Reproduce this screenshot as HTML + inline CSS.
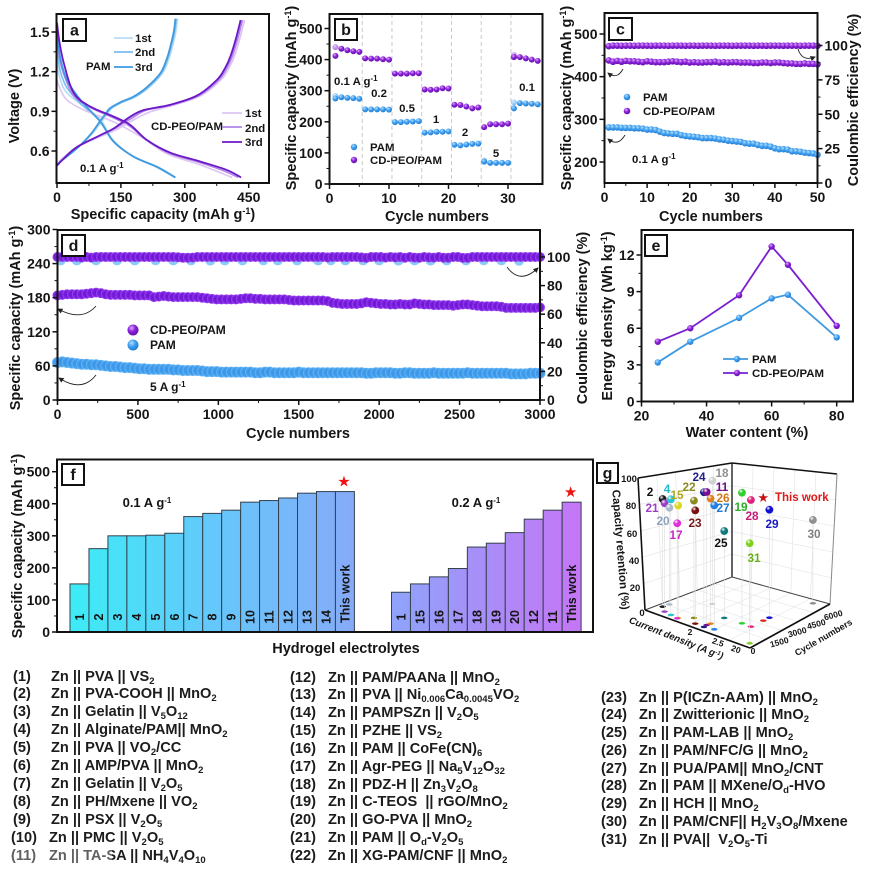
<!DOCTYPE html>
<html lang="en">
<head>
<meta charset="utf-8">
<title>Hydrogel electrolyte battery performance figure</title>
<style>
html,body{margin:0;padding:0;background:#fff}
#page{position:relative;width:871px;height:870px;overflow:hidden;background:#fff;filter:blur(.35px)}
svg{position:absolute;left:0;top:0}
svg text{font-family:"Liberation Sans",Arial,sans-serif;font-weight:700;fill:#151515}
.tick{font-size:14px}
.title{font-size:14.5px;text-anchor:middle}
.lg{font-size:11.4px}
.col{position:absolute;font:700 14.6px/17.85px "Liberation Sans",Arial,sans-serif;color:#1c1c1c}
.col>div{white-space:pre}
.n{display:inline-block;width:38px}
.o{margin-left:-2px}
.col sub{font-size:9.5px;line-height:0;vertical-align:baseline;position:relative;top:3px}
#wm{position:absolute;left:12px;top:845px;width:100px;height:21px;background:rgba(255,255,255,.3);border-radius:3px}
</style>
</head>
<body>
<div id="page">
<svg id="fig" width="871" height="870" viewBox="0 0 871 870" xmlns="http://www.w3.org/2000/svg">
<defs>
<radialGradient id="sB" cx=".38" cy=".32" r=".75"><stop offset="0" stop-color="#b5e0ff"/><stop offset=".45" stop-color="#3f9ff0"/><stop offset="1" stop-color="#1f78cc"/></radialGradient>
<radialGradient id="sP" cx=".38" cy=".32" r=".75"><stop offset="0" stop-color="#dca8ff"/><stop offset=".45" stop-color="#8a20d8"/><stop offset="1" stop-color="#5c10a6"/></radialGradient>
<radialGradient id="bandB"><stop offset="0" stop-color="#3a8fe2"/><stop offset=".7" stop-color="#3f9cec"/><stop offset="1" stop-color="#6cb9f5"/></radialGradient>
<radialGradient id="bandP"><stop offset="0" stop-color="#6a12cc"/><stop offset=".7" stop-color="#7a1ee0"/><stop offset="1" stop-color="#a050f2"/></radialGradient>
<linearGradient id="barA" gradientUnits="userSpaceOnUse" x1="70" y1="0" x2="354" y2="0"><stop offset="0" stop-color="#3cecf6"/><stop offset=".5" stop-color="#64c8fb"/><stop offset="1" stop-color="#86aaf8"/></linearGradient>
<linearGradient id="barB" gradientUnits="userSpaceOnUse" x1="391" y1="0" x2="581" y2="0"><stop offset="0" stop-color="#8ea4fb"/><stop offset="1" stop-color="#c576f5"/></linearGradient>
<marker id="ah" markerWidth="6" markerHeight="6" refX="5" refY="3" orient="auto"><path d="M0 0L6 3L0 6Z" fill="#222"/></marker>
</defs>

<!-- static titles and annotations -->
<g>
<text class="title" x="163" y="219">Specific capacity (mAh g<tspan dy="-5" font-size="9">-1</tspan><tspan dy="5">)</tspan></text>
<text class="title" transform="translate(19 106) rotate(-90)">Voltage (V)</text>
<text class="lg" x="135" y="42">1st</text>
<text class="lg" x="135" y="56">2nd</text>
<text class="lg" x="135" y="71">3rd</text>
<text class="lg" x="86" y="70">PAM</text>
<text class="lg" x="245" y="117">1st</text>
<text class="lg" x="245" y="132">2nd</text>
<text class="lg" x="245" y="146">3rd</text>
<text class="lg" x="151" y="130">CD-PEO/PAM</text>
<text class="lg" x="80" y="172">0.1 A g<tspan dy="-4" font-size="8">-1</tspan></text>
</g>

<g>
<text class="title" x="437" y="221">Cycle numbers</text>
<text class="title" transform="translate(296 98) rotate(-90)">Specific capacity (mAh g<tspan dy="-5" font-size="9">-1</tspan><tspan dy="5">)</tspan></text>
<text class="lg" x="334" y="85">0.1 A g<tspan dy="-4" font-size="8">-1</tspan></text>
<text class="lg" x="379" y="97" text-anchor="middle">0.2</text>
<text class="lg" x="407" y="112" text-anchor="middle">0.5</text>
<text class="lg" x="436" y="123" text-anchor="middle">1</text>
<text class="lg" x="465" y="136" text-anchor="middle">2</text>
<text class="lg" x="496" y="157" text-anchor="middle">5</text>
<text class="lg" x="527" y="91" text-anchor="middle">0.1</text>
<text class="lg" x="370" y="151">PAM</text>
<text class="lg" x="370" y="164">CD-PEO/PAM</text>
</g>

<g>
<text class="title" x="711" y="221">Cycle numbers</text>
<text class="title" transform="translate(571 98) rotate(-90)">Specific capacity (mAh g<tspan dy="-5" font-size="9">-1</tspan><tspan dy="5">)</tspan></text>
<text class="title" transform="translate(858 100) rotate(-90)">Coulombic efficiency (%)</text>
<text class="lg" x="643" y="101">PAM</text>
<text class="lg" x="643" y="115">CD-PEO/PAM</text>
<text class="lg" x="632" y="163">0.1 A g<tspan dy="-4" font-size="8">-1</tspan></text>
<path d="M623 69Q617 80 608 73" fill="none" stroke="#222" stroke-width=".9" marker-end="url(#ah)"/>
<path d="M625 135Q618 147 608 139" fill="none" stroke="#222" stroke-width=".9" marker-end="url(#ah)"/>
<path d="M798 49Q802 62 815 57" fill="none" stroke="#222" stroke-width=".9" marker-end="url(#ah)"/>
</g>

<g>
<text class="title" x="298" y="438">Cycle numbers</text>
<text class="title" transform="translate(20 318) rotate(-90)">Specific capacity (mAh g<tspan dy="-5" font-size="9">-1</tspan><tspan dy="5">)</tspan></text>
<text class="title" transform="translate(587 318) rotate(-90)">Coulombic efficiency (%)</text>
<text x="150" y="334" style="font-size:12px">CD-PEO/PAM</text>
<text x="150" y="349" style="font-size:12px">PAM</text>
<text x="150" y="391" style="font-size:12px">5 A g<tspan dy="-4" font-size="8">-1</tspan></text>
<path d="M96 306Q82 322 58 309" fill="none" stroke="#222" stroke-width=".9" marker-end="url(#ah)"/>
<path d="M96 375Q82 393 59 378" fill="none" stroke="#222" stroke-width=".9" marker-end="url(#ah)"/>
<path d="M507 267Q520 285 538 268" fill="none" stroke="#222" stroke-width=".9" marker-end="url(#ah)"/>
</g>

<g>
<text class="title" x="747" y="437">Water content (%)</text>
<text class="title" transform="translate(612 316) rotate(-90)">Energy density (Wh kg<tspan dy="-5" font-size="9">-1</tspan><tspan dy="5">)</tspan></text>
<text class="lg" x="752" y="363">PAM</text>
<text class="lg" x="752" y="377">CD-PEO/PAM</text>
</g>

<g>
<text class="title" x="346" y="653">Hydrogel electrolytes</text>
<text class="title" transform="translate(22 546) rotate(-90)">Specific capacity (mAh g<tspan dy="-5" font-size="9">-1</tspan><tspan dy="5">)</tspan></text>
<text x="147" y="507" text-anchor="middle" style="font-size:13px">0.1 A g<tspan dy="-4" font-size="8">-1</tspan></text>
<text x="476" y="507" text-anchor="middle" style="font-size:13px">0.2 A g<tspan dy="-4" font-size="8">-1</tspan></text>
</g>

<g id="plots"></g>

<g>
<text x="650" y="496" text-anchor="middle" style="fill:#111;font-size:11.8px">2</text>
<text x="667" y="493" text-anchor="middle" style="fill:#22bcc8;font-size:11.8px">4</text>
<text x="677" y="499" text-anchor="middle" style="fill:#b0a820;font-size:11.8px">15</text>
<text x="652" y="512" text-anchor="middle" style="fill:#9b3fc4;font-size:11.8px">21</text>
<text x="663" y="525" text-anchor="middle" style="fill:#8fa0bc;font-size:11.8px">20</text>
<text x="676" y="539" text-anchor="middle" style="fill:#c828c0;font-size:11.8px">17</text>
<text x="689" y="491" text-anchor="middle" style="fill:#8a8a20;font-size:11.8px">22</text>
<text x="695" y="527" text-anchor="middle" style="fill:#7a1818;font-size:11.8px">23</text>
<text x="699" y="481" text-anchor="middle" style="fill:#20208a;font-size:11.8px">24</text>
<text x="722" y="477" text-anchor="middle" style="fill:#909090;font-size:11.8px">18</text>
<text x="722" y="491" text-anchor="middle" style="fill:#6a1080;font-size:11.8px">11</text>
<text x="723" y="502" text-anchor="middle" style="fill:#d07818;font-size:11.8px">26</text>
<text x="723" y="512" text-anchor="middle" style="fill:#2078d0;font-size:11.8px">27</text>
<text x="721" y="547" text-anchor="middle" style="fill:#111;font-size:11.8px">25</text>
<text x="741" y="511" text-anchor="middle" style="fill:#28b028;font-size:11.8px">19</text>
<text x="752" y="520" text-anchor="middle" style="fill:#c81e78;font-size:11.8px">28</text>
<text x="772" y="528" text-anchor="middle" style="fill:#1818c0;font-size:11.8px">29</text>
<text x="814" y="538" text-anchor="middle" style="fill:#808080;font-size:11.8px">30</text>
<text x="754" y="562" text-anchor="middle" style="fill:#68b018;font-size:11.8px">31</text>
<text x="775" y="501" style="fill:#e01818;font-size:11.5px">This work</text>
<text transform="translate(617 550) rotate(85.5)" text-anchor="middle" style="font-size:11.4px">Capacity retention (%)</text>
<text transform="translate(675 641) rotate(21.6)" text-anchor="middle" style="font-size:9.6px;font-style:italic">Current density (A g<tspan dy="-3" font-size="6">-1</tspan><tspan dy="3">)</tspan></text>
<text transform="translate(825 640) rotate(-30)" text-anchor="middle" style="font-size:9px">Cycle numbers</text>
<text x="629" y="482" text-anchor="middle" style="font-size:9.5px">100</text>
<text x="631" y="509" text-anchor="middle" style="font-size:9.5px">80</text>
<text x="632" y="537" text-anchor="middle" style="font-size:9.5px">60</text>
<text x="634" y="564" text-anchor="middle" style="font-size:9.5px">40</text>
<text x="635" y="591" text-anchor="middle" style="font-size:9.5px">20</text>
<text x="642" y="616" text-anchor="middle" style="font-size:9.5px">0</text>
<text x="690" y="635" text-anchor="middle" style="font-size:8.5px">2</text>
<text transform="translate(717 645) rotate(20)" text-anchor="middle" style="font-size:8.5px">2.5</text>
<text transform="translate(735 652) rotate(20)" text-anchor="middle" style="font-size:8.5px">20</text>
<text x="753" y="654" text-anchor="middle" style="font-size:8.5px">0</text>
<text transform="translate(780 645) rotate(-15)" text-anchor="middle" style="font-size:8.5px">1500</text>
<text transform="translate(798 635) rotate(-15)" text-anchor="middle" style="font-size:8.5px">3000</text>
<text transform="translate(817 627) rotate(-15)" text-anchor="middle" style="font-size:8.5px">4500</text>
<text transform="translate(834 618) rotate(-15)" text-anchor="middle" style="font-size:8.5px">6000</text>
</g>
</svg>

<div class="col" style="left:13px;top:668.5px;line-height:17.93px"><div><span class="n">(1)</span>Zn || PVA || VS<sub>2</sub></div><div><span class="n">(2)</span>Zn || PVA-COOH || MnO<sub>2</sub></div><div><span class="n">(3)</span>Zn || Gelatin || V<sub>5</sub>O<sub>12</sub></div><div><span class="n">(4)</span>Zn || Alginate/PAM|| MnO<sub>2</sub></div><div><span class="n">(5)</span>Zn || PVA || VO<sub>2</sub>/CC</div><div><span class="n">(6)</span>Zn || AMP/PVA || MnO<sub>2</sub></div><div><span class="n">(7)</span>Zn || Gelatin || V<sub>2</sub>O<sub>5</sub></div><div><span class="n">(8)</span>Zn || PH/Mxene || VO<sub>2</sub></div><div><span class="n">(9)</span>Zn || PSX || V<sub>2</sub>O<sub>5</sub></div><div class="o"><span class="n">(10)</span>Zn || PMC || V<sub>2</sub>O<sub>5</sub></div><div class="o"><span class="n">(11)</span>Zn || TA-SA || NH<sub>4</sub>V<sub>4</sub>O<sub>10</sub></div></div>

<div class="col" style="left:290px;top:669.5px"><div><span class="n">(12)</span>Zn || PAM/PAANa || MnO<sub>2</sub></div><div><span class="n">(13)</span>Zn || PVA || Ni<sub>0.006</sub>Ca<sub>0.0045</sub>VO<sub>2</sub></div><div><span class="n">(14)</span>Zn || PAMPSZn || V<sub>2</sub>O<sub>5</sub></div><div><span class="n">(15)</span>Zn || PZHE || VS<sub>2</sub></div><div><span class="n">(16)</span>Zn || PAM || CoFe(CN)<sub>6</sub></div><div><span class="n">(17)</span>Zn || Agr-PEG || Na<sub>5</sub>V<sub>12</sub>O<sub>32</sub></div><div><span class="n">(18)</span>Zn || PDZ-H || Zn<sub>3</sub>V<sub>2</sub>O<sub>8</sub></div><div><span class="n">(19)</span>Zn || C-TEOS  || rGO/MnO<sub>2</sub></div><div><span class="n">(20)</span>Zn || GO-PVA || MnO<sub>2</sub></div><div><span class="n">(21)</span>Zn || PAM || O<sub>d</sub>-V<sub>2</sub>O<sub>5</sub></div><div><span class="n">(22)</span>Zn || XG-PAM/CNF || MnO<sub>2</sub></div></div>

<div class="col" style="left:601px;top:689.5px;line-height:17.75px"><div><span class="n">(23)</span>Zn || P(ICZn-AAm) || MnO<sub>2</sub></div><div><span class="n">(24)</span>Zn || Zwitterionic || MnO<sub>2</sub></div><div><span class="n">(25)</span>Zn || PAM-LAB || MnO<sub>2</sub></div><div><span class="n">(26)</span>Zn || PAM/NFC/G || MnO<sub>2</sub></div><div><span class="n">(27)</span>Zn || PUA/PAM|| MnO<sub>2</sub>/CNT</div><div><span class="n">(28)</span>Zn || PAM || MXene/O<sub>d</sub>-HVO</div><div><span class="n">(29)</span>Zn || HCH || MnO<sub>2</sub></div><div><span class="n">(30)</span>Zn || PAM/CNF|| H<sub>2</sub>V<sub>3</sub>O<sub>8</sub>/Mxene</div><div><span class="n">(31)</span>Zn || PVA||  V<sub>2</sub>O<sub>5</sub>-Ti</div></div>
<div id="wm"></div>
</div>

<script>
/* ---------- panel a: voltage profiles ---------- */
const aXTicks = [0, 150, 300, 450];
const aYTicks = [0.6, 0.9, 1.2, 1.5];
const aYTickLabels = ['0.6', '0.9', '1.2', '1.5'];
const pamChg3Cap = [0, 8, 20, 50, 80, 100, 115, 125, 150, 180, 210, 243, 258, 266, 274, 278];
const pamChg3V = [0.49, 0.52, 0.55, 0.63, 0.73, 0.82, 0.885, 0.925, 0.97, 1.012, 1.08, 1.19, 1.3, 1.39, 1.5, 1.6];
const pamChg2Cap = [0, 8, 20, 50, 80, 100, 115, 127, 152, 183, 213, 245, 260, 268, 276, 280];
const pamChg2V = [0.49, 0.52, 0.55, 0.63, 0.73, 0.82, 0.88, 0.925, 0.97, 1.012, 1.08, 1.19, 1.3, 1.39, 1.5, 1.6];
const pamChg1Cap = [0, 8, 20, 50, 80, 102, 118, 130, 155, 186, 216, 248, 263, 271, 279, 283];
const pamChg1V = [0.5, 0.53, 0.56, 0.63, 0.72, 0.81, 0.88, 0.925, 0.97, 1.012, 1.08, 1.19, 1.3, 1.39, 1.5, 1.6];
const pamDis3Cap = [0, 3, 8, 23, 55, 102, 133, 180, 235, 278];
const pamDis3V = [1.54, 1.42, 1.3, 1.14, 0.987, 0.82, 0.67, 0.557, 0.48, 0.4];
const pamDis2Cap = [0, 3, 8, 23, 55, 100, 131, 178, 233, 277];
const pamDis2V = [1.42, 1.3, 1.2, 1.08, 0.96, 0.83, 0.68, 0.56, 0.48, 0.4];
const pamDis1Cap = [0, 3, 10, 23, 63, 102, 130, 178, 233, 276];
const pamDis1V = [1.28, 1.2, 1.12, 1.04, 0.936, 0.84, 0.69, 0.56, 0.48, 0.4];
const cdChg3Cap = [0, 15, 47, 102, 133, 172, 204, 266, 329, 376, 395, 407, 420, 431];
const cdChg3V = [0.49, 0.54, 0.63, 0.72, 0.77, 0.86, 0.91, 0.95, 1.02, 1.14, 1.23, 1.315, 1.45, 1.59];
const cdChg2Cap = [0, 15, 47, 102, 135, 176, 210, 270, 333, 380, 399, 411, 424, 435];
const cdChg2V = [0.49, 0.54, 0.63, 0.72, 0.77, 0.85, 0.91, 0.95, 1.02, 1.14, 1.23, 1.315, 1.45, 1.59];
const cdChg1Cap = [0, 15, 47, 102, 138, 182, 222, 276, 338, 385, 404, 416, 429, 440];
const cdChg1V = [0.5, 0.55, 0.63, 0.71, 0.76, 0.84, 0.9, 0.95, 1.02, 1.14, 1.23, 1.315, 1.45, 1.59];
const cdDis3Cap = [0, 6, 16, 39, 78, 133, 172, 211, 266, 337, 399, 432];
const cdDis3V = [1.57, 1.42, 1.265, 1.04, 0.936, 0.86, 0.797, 0.683, 0.587, 0.52, 0.456, 0.4];
const cdDis2Cap = [0, 6, 16, 39, 78, 133, 172, 207, 262, 333, 392, 425];
const cdDis2V = [1.45, 1.3, 1.18, 1.02, 0.93, 0.85, 0.785, 0.69, 0.585, 0.515, 0.45, 0.4];
const cdDis1Cap = [0, 6, 23, 63, 133, 196, 258, 337, 411];
const cdDis1V = [1.14, 1.08, 0.987, 0.91, 0.82, 0.71, 0.58, 0.494, 0.4];

/* ---------- panel b: rate performance ---------- */
const bXTicks = [0, 10, 20, 30];
const bYTicks = [0, 100, 200, 300, 400, 500];
const bCycles = [1,2,3,4,5,6,7,8,9,10,11,12,13,14,15,16,17,18,19,20,21,22,23,24,25,26,27,28,29,30,31,32,33,34,35];
const bPam = [275,279,277,276,274,240,240,240,240,239,199,199,200,201,202,165,166,168,168,169,126,124,127,129,130,72,68,68,68,68,243,260,259,258,256];
const bCd = [412,435,430,427,425,404,403,403,401,400,355,355,355,356,356,304,303,304,308,307,255,254,249,243,246,183,192,192,192,194,408,408,404,400,396];
const bPamFadedCycles = [1, 26, 31];
const bPamFaded = [283, 75, 262];
const bCdFadedCycles = [1, 31];
const bCdFaded = [440, 414];
const bDividers = [5.5, 10.5, 15.5, 20.5, 25.5, 30.5];

/* ---------- panel c: 50-cycle stability ---------- */
const cXTicks = [0, 10, 20, 30, 40, 50];
const cYTicks = [200, 300, 400, 500];
const cRightTicks = [0, 25, 50, 75, 100];
const cPam = [281,281,281,280,280,280,279,279,278,276,276,275,271,268,267,266,266,263,261,260,259,258,256,256,256,255,253,252,250,249,248,247,244,243,243,240,238,238,236,232,230,230,229,225,225,224,222,221,220,217];
const cCd = [438,435,437,435,437,436,436,435,434,436,435,434,434,434,435,436,435,434,435,433,434,433,433,434,434,435,433,434,433,434,434,433,433,433,432,432,433,433,432,433,433,432,431,431,430,430,431,430,430,429];
const cCe = [99.5,99.9,99.9,99.8,99.9,99.9,99.8,99.9,99.9,99.9,99.8,99.9,99.9,99.9,99.8,99.9,99.9,99.9,99.8,99.9,99.9,99.8,99.9,99.9,99.9,99.8,99.9,99.9,99.9,99.8,99.9,99.9,99.9,99.9,99.8,99.9,99.9,99.8,99.9,99.9,99.9,99.8,99.9,99.9,99.9,99.8,99.9,99.9,99.9,99.8];

/* ---------- panel d: 3000-cycle stability ---------- */
const dXTicks = [0, 500, 1000, 1500, 2000, 2500, 3000];
const dYTicks = [0, 60, 120, 180, 240, 300];
const dRightTicks = [0, 20, 40, 60, 80, 100];
const dStepCycles = [0,30,60,90,120,150,180,210,240,270,300,330,360,390,420,450,480,510,540,570,600,630,660,690,720,750,780,810,840,870,900,930,960,990,1020,1050,1080,1110,1140,1170,1200,1230,1260,1290,1320,1350,1380,1410,1440,1470,1500,1530,1560,1590,1620,1650,1680,1710,1740,1770,1800,1830,1860,1890,1920,1950,1980,2010,2040,2070,2100,2130,2160,2190,2220,2250,2280,2310,2340,2370,2400,2430,2460,2490,2520,2550,2580,2610,2640,2670,2700,2730,2760,2790,2820,2850,2880,2910,2940,2970,3000];
const dCd = [184,185,186,186,186,186,187,188,189,188,186,185,185,185,185,185,184,184,184,184,181,182,183,182,181,181,181,181,181,181,180,179,178,177,177,177,177,177,178,179,179,178,178,177,177,177,177,177,176,175,175,175,175,175,175,175,174,171,170,169,169,169,169,170,172,171,170,169,169,168,168,169,168,168,170,169,168,168,167,167,167,167,166,167,168,168,167,166,165,165,165,165,164,162,162,162,162,162,162,162,163];
const dPam = [66,67,66,65,64,63,63,62,62,61,60,59,59,58,57,57,56,55,55,54,54,54,54,54,53,53,52,52,52,52,51,50,50,50,49,49,49,49,49,49,49,48,48,49,49,48,48,48,48,48,49,48,48,48,48,48,48,48,48,48,48,48,48,48,47,47,48,48,48,48,47,47,48,48,47,47,47,47,48,47,47,47,47,47,47,48,47,47,47,47,47,47,47,47,46,46,46,46,47,47,47];
const dCeCd = [100,100,100,100,100,99.6,100,99.6,100,100,100,100,100,100,100,100,100,100,100,100,100,100,100,100,100,99.8,99.5,99.5,99.6,100,100,100,100,100,100,100,100,100,100,100,100,100,100,100,100,100,100,100,100,100,100,100,100,100,100,100,99.7,100,100,100,100,100,100,99.7,99.4,100,100,100,99.6,100,99.7,100,99.5,100,99.6,99.5,100,99.7,99.6,100,99.5,99.5,100,100,99.4,99.4,100,100,100,100,100,100,100,100,100,100,100,100,100,100,100];
const dCePamCycles = [20,120,240,370,480,610,720,830,950,1040,1150,1280,1370,1490,1620,1700,1790,1900,2000,2120,2220,2320,2420,2540,2650,2760,2870];
const dCePam = [97.6,97.6,97.7,97.6,97.6,97.7,97.6,97.6,97.5,97.6,97.6,97.7,97.6,97.6,97.6,97.7,97.6,97.6,97.6,97.5,97.6,97.5,97.6,97.6,97.7,97.6,97.4];

/* ---------- panel e: energy density ---------- */
const eXTicks = [20, 40, 60, 80];
const eYTicks = [0, 3, 6, 9, 12];
const eWater = [25, 35, 50, 60, 65, 80];
const ePam = [3.2, 4.9, 6.85, 8.45, 8.75, 5.25];
const eCd = [4.9, 6.0, 8.7, 12.7, 11.2, 6.2];

/* ---------- panel f: literature comparison ---------- */
const fYTicks = [0, 100, 200, 300, 400, 500];
const fGroupALabels = ['1','2','3','4','5','6','7','8','9','10','11','12','13','14','This work'];
const fGroupA = [150,260,300,300,302,308,360,370,380,405,410,418,433,438,438];
const fGroupBLabels = ['1','15','16','17','18','19','20','12','11','This work'];
const fGroupB = [124,150,172,198,265,277,310,352,380,405];

/* ---------- panel g: 3D comparison ---------- */
const gNames = ['2','21','4','20','15','17','22','23','24','11','26','27','18','25','19','28','31','29','30'];
const gDensity = [0.31,0.6,0.93,0.38,1.27,1.26,1.69,2.0,2.39,2.37,2.41,2.78,1.51,2.5,3.23,3.63,4.4,3.69,4.16];
const gCycles = [798,450,366,1187,340,283,807,384,370,613,841,488,2495,1710,1801,1797,398,3078,5548];
const gRetention = [81.4,81.9,87.4,73,85,71.8,88.7,85.6,101.8,100.5,94.5,93.7,93.2,65.7,98.7,95.7,75.6,81.6,63];
const gColors = ['#1c1c1c','#9b3fc4','#21c6d0','#a9b8cc','#dcd820','#e030d8','#8a8a20','#7a1010','#20208a','#7a1090','#e08020','#2080e0','#d0d0d0','#107a80','#30d030','#e0207a','#80d020','#1010d0','#909090'];
const gThisWork = [3.67, 2654, 93.5];

const NS = 'http://www.w3.org/2000/svg';
const root = document.getElementById('plots');
function mk(tag, attrs, parent, text) {
  const e = document.createElementNS(NS, tag);
  for (const k in attrs) e.setAttribute(k, attrs[k]);
  if (text !== undefined) e.textContent = text;
  parent.appendChild(e);
  return e;
}
function scale(d0, d1, r0, r1) {
  return v => r0 + (v - d0) * (r1 - r0) / (d1 - d0);
}
function smooth(xs, ys) {
  let d = 'M' + xs[0] + ' ' + ys[0];
  for (let i = 0; i < xs.length - 1; i++) {
    const i0 = Math.max(0, i - 1), i3 = Math.min(xs.length - 1, i + 2);
    const c1x = xs[i] + (xs[i + 1] - xs[i0]) / 6, c1y = ys[i] + (ys[i + 1] - ys[i0]) / 6;
    const c2x = xs[i + 1] - (xs[i3] - xs[i]) / 6, c2y = ys[i + 1] - (ys[i3] - ys[i]) / 6;
    d += 'C' + c1x + ' ' + c1y + ' ' + c2x + ' ' + c2y + ' ' + xs[i + 1] + ' ' + ys[i + 1];
  }
  return d;
}
function xAxis(parent, x, ticks, labels, y0, minorStep) {
  ticks.forEach((v, i) => {
    const t = mk('line', {x1: x(v), x2: x(v), y1: y0, y2: y0 + 5, stroke: '#111', 'stroke-width': 1.5}, parent);
    
    
    const l = mk('text', {x: x(v), y: y0 + 19, 'text-anchor': 'middle', class: 'tick'}, parent, labels ? labels[i] : String(v));
    
    
    if (minorStep && i < ticks.length - 1) {
      const m = mk('line', {x1: x(v + minorStep), x2: x(v + minorStep), y1: y0, y2: y0 + 3, stroke: '#111', 'stroke-width': 1}, parent);
      
      
    }
  });
}
function yAxis(parent, y, ticks, labels, x0, side, minorStep) {
  ticks.forEach((v, i) => {
    const t = mk('line', {x1: x0, x2: x0 + side * 5, y1: y(v), y2: y(v), stroke: '#111', 'stroke-width': 1.5}, parent);
    
    
    const l = mk('text', {x: x0 + side * 7, y: y(v) + 5, 'text-anchor': side < 0 ? 'end' : 'start', class: 'tick'}, parent, labels ? labels[i] : String(v));
    
    
    if (minorStep && i < ticks.length - 1) {
      const m = mk('line', {x1: x0, x2: x0 + side * 3, y1: y(v + minorStep), y2: y(v + minorStep), stroke: '#111', 'stroke-width': 1}, parent);
      
      
    }
  });
}
function frame(parent, x, y, w, h) {
  const r = mk('rect', {x: x, y: y, width: w, height: h, fill: 'none', stroke: '#111', 'stroke-width': 2}, parent);
  
  
}
function badge(parent, x, y, w, h, letter) {
  const r = mk('rect', {x: x, y: y, width: w, height: h, fill: '#fff', stroke: '#111', 'stroke-width': 2}, parent);
  
  
  const t = mk('text', {x: x + w / 2, y: y + h / 2 + 5.5, 'text-anchor': 'middle', style: 'font-size:16px'}, parent, letter);
  
  
}
function curve(parent, xs, ys, color, w) {
  const p = mk('path', {d: smooth(xs, ys), fill: 'none', stroke: color, 'stroke-width': w}, parent);
  
  
}
function dots(parent, xs, ys, fill, r, opacity) {
  xs.forEach((v, i) => {
    const c = mk('circle', {cx: v, cy: ys[i], r: r, fill: fill, opacity: opacity === undefined ? 1 : opacity}, parent);
    
    
  });
}
function legendLine(parent, x1, x2, y, color) {
  const l = mk('line', {x1: x1, x2: x2, y1: y, y2: y, stroke: color, 'stroke-width': 1.8}, parent);
  
  
}

/* panel a */
{
  const g = mk('g', {}, root);
  
  
  const x = scale(0, 500, 57, 270), y = scale(0.6, 1.5, 151, 32);
  const draw = (c, v, col, w) => curve(g, c.map(x), v.map(y), col, w);
  draw(pamDis1Cap, pamDis1V, '#b7dcf6', 1.6);
  draw(pamDis2Cap, pamDis2V, '#7cbdf0', 1.6);
  draw(pamChg1Cap, pamChg1V, '#b7dcf6', 1.6);
  draw(pamChg2Cap, pamChg2V, '#7cbdf0', 1.6);
  draw(cdDis1Cap, cdDis1V, '#dcc6f3', 1.6);
  draw(cdDis2Cap, cdDis2V, '#b185e8', 1.6);
  draw(cdChg1Cap, cdChg1V, '#dcc6f3', 1.8);
  draw(cdChg2Cap, cdChg2V, '#b185e8', 1.8);
  draw(pamDis3Cap, pamDis3V, '#3f9ae0', 1.8);
  draw(pamChg3Cap, pamChg3V, '#3f9ae0', 1.8);
  draw(cdDis3Cap, cdDis3V, '#6b18c6', 1.8);
  draw(cdChg3Cap, cdChg3V, '#6b18c6', 1.8);
  legendLine(g, 114, 133, 38, '#b7dcf6');
  legendLine(g, 114, 133, 52, '#7cbdf0');
  legendLine(g, 114, 133, 67, '#3f9ae0');
  legendLine(g, 222, 242, 113, '#dcc6f3');
  legendLine(g, 222, 242, 127, '#b185e8');
  legendLine(g, 222, 242, 142, '#6b18c6');
  frame(g, 56.5, 14, 212.5, 169);
  xAxis(g, x, aXTicks, null, 183, 75);
  yAxis(g, y, aYTicks, aYTickLabels, 56.5, -1, 0.15);
  badge(g, 63, 19, 23, 22, 'a');
}

/* panel b */
{
  const g = mk('g', {}, root);
  
  
  const x = scale(0, 10, 329.5, 389), y = scale(0, 500, 184, 28.5);
  bDividers.forEach(v => {
    const l = mk('line', {x1: x(v), x2: x(v), y1: 14, y2: 184, stroke: '#c9c9c9', 'stroke-width': 1, 'stroke-dasharray': '4 3'}, g);
    
    
  });
  dots(g, bPamFadedCycles.map(x), bPamFaded.map(y), 'url(#sB)', 3, .5);
  dots(g, bCdFadedCycles.map(x), bCdFaded.map(y), 'url(#sP)', 3, .5);
  dots(g, bCycles.map(x), bPam.map(y), 'url(#sB)', 3);
  dots(g, bCycles.map(x), bCd.map(y), 'url(#sP)', 3);
  dots(g, [354], [147], 'url(#sB)', 3.2);
  dots(g, [354], [160], 'url(#sP)', 3.2);
  frame(g, 329.5, 14, 213, 170);
  xAxis(g, x, bXTicks, null, 184, 5);
  yAxis(g, y, bYTicks, null, 329.5, -1, 50);
  badge(g, 335, 19, 22, 21, 'b');
}

/* panel c */
{
  const g = mk('g', {}, root);
  
  
  const x = scale(0, 50, 604.5, 817.5), y = scale(200, 500, 162, 34), yR = scale(0, 100, 183, 45.5);
  const cyc = cPam.map((_, i) => x(i + 1));
  dots(g, cyc, cPam.map(y), 'url(#sB)', 3.3);
  dots(g, cyc, cCd.map(y), 'url(#sP)', 3.3);
  dots(g, cyc, cCe.map(yR), 'url(#sP)', 3.3);
  dots(g, [627], [97], 'url(#sB)', 3.3);
  dots(g, [627], [111], 'url(#sP)', 3.3);
  frame(g, 604.5, 13, 213, 170);
  xAxis(g, x, cXTicks, null, 183, 5);
  yAxis(g, y, cYTicks, null, 604.5, -1, 50);
  yAxis(g, yR, cRightTicks, null, 817.5, 1, 12.5);
  badge(g, 609, 18, 23, 22, 'c');
}

/* panel d */
{
  const g = mk('g', {}, root);
  
  
  const x = scale(0, 3000, 57.5, 540), y = scale(0, 300, 400, 229.5), yR = scale(0, 100, 400, 257);
  dots(g, dCePamCycles.map(x), dCePam.map(yR), '#8ccaf7', 5);
  const sx = dStepCycles.map(x);
  dots(g, sx, dCeCd.map(yR), 'url(#bandP)', 5);
  dots(g, sx, dCd.map(y), 'url(#bandP)', 5);
  dots(g, sx, dPam.map(y), 'url(#bandB)', 5.5);
  dots(g, [133], [330], 'url(#sP)', 5.5);
  dots(g, [133], [345], 'url(#sB)', 5.5);
  frame(g, 57.5, 230, 482.5, 170);
  xAxis(g, x, dXTicks, null, 400, 250);
  yAxis(g, y, dYTicks, null, 57.5, -1, 30);
  yAxis(g, yR, dRightTicks, null, 540, 1, 10);
  badge(g, 62, 235, 23, 21, 'd');
}

/* panel e */
{
  const g = mk('g', {}, root);
  
  
  const x = scale(20, 80, 641.5, 836.7), y = scale(0, 12, 401.5, 255);
  const line = (vals, color) => {
    const p = mk('polyline', {points: eWater.map((w, i) => x(w) + ',' + y(vals[i])).join(' '), fill: 'none', stroke: color, 'stroke-width': 1.8}, g);
    
    
  };
  line(ePam, '#3f9ae0');
  line(eCd, '#7a1fd0');
  dots(g, eWater.map(x), ePam.map(y), 'url(#sB)', 3.2);
  dots(g, eWater.map(x), eCd.map(y), 'url(#sP)', 3.2);
  legendLine(g, 723, 748, 359, '#3f9ae0');
  legendLine(g, 723, 748, 373, '#7a1fd0');
  dots(g, [737], [359], 'url(#sB)', 3.2);
  dots(g, [737], [373], 'url(#sP)', 3.2);
  frame(g, 641.5, 230, 211.5, 171.5);
  xAxis(g, x, eXTicks, null, 401.5, 10);
  yAxis(g, y, eYTicks, null, 641.5, -1, 1.5);
  badge(g, 645, 235, 22, 21, 'e');
}

/* panel f */
{
  const g = mk('g', {}, root);
  
  
  const y = scale(0, 500, 632, 471.7);
  const slot = 18.96;
  const bars = (vals, labels, x0, fill) => {
    vals.forEach((v, i) => {
      const bx = x0 + i * slot;
      const r = mk('rect', {x: bx, y: y(v), width: slot, height: y(0) - y(v), fill: fill, stroke: '#33414d', 'stroke-width': 1}, g);
      
      
      const work = labels[i].length > 2;
      const t = mk('text', {transform: 'translate(' + (bx + slot / 2 + 4.5) + ' ' + (work ? 623 : 617) + ') rotate(-90)', 'text-anchor': work ? 'start' : 'middle', style: 'font-size:12.5px'}, g, labels[i]);
      
      
    });
    const last = vals.length - 1;
    const s = mk('text', {x: x0 + last * slot + slot / 2 - 1, y: y(vals[last]) - 5, 'text-anchor': 'middle', style: 'font-size:15px;fill:#f01414;font-family:\'DejaVu Sans\',sans-serif'}, g, '★');
    
    
  };
  bars(fGroupA, fGroupALabels, 70, 'url(#barA)');
  bars(fGroupB, fGroupBLabels, 391.5, 'url(#barB)');
  frame(g, 57, 459.5, 536, 172.5);
  yAxis(g, y, fYTicks, null, 57, -1, 50);
  badge(g, 62, 464, 22, 21, 'f');
}

/* panel g */
{
  const g = mk('g', {}, root);
  
  
  const O = [645, 610], ex = [105, 38.3], ey = [80, -44.3], ez = 132.3;
  const px = (d, c, r) => O[0] + (d / 4.65) * ex[0] + (c / 6000) * ey[0];
  const py = (d, c, r) => O[1] + (d / 4.65) * ex[1] + (c / 6000) * ey[1] - (r / 100) * ez;
  const L0 = [645, 610], B0 = [732, 577], B1 = [732, 463], L1 = [638, 478], R0 = [830, 604], R1 = [837, 474], F0 = [750, 648];
  const seg = (a, b, color, w, name) => {
    const l = mk('line', {x1: a[0], y1: a[1], x2: b[0], y2: b[1], stroke: color, 'stroke-width': w}, g);
    
    
  };
  const mix = (a, b, t) => [a[0] + (b[0] - a[0]) * t, a[1] + (b[1] - a[1]) * t];
  for (let i = 1; i < 5; i++) {
    const t = i / 5;
    seg(mix(L0, L1, t), mix(B0, B1, t), '#e2e2e2', .6, 'wall-grid-line');
    seg(mix(B0, B1, t), mix(R0, R1, t), '#e2e2e2', .6, 'wall-grid-line');
    seg(mix(L0, B0, t), mix(L1, B1, t), '#e2e2e2', .6, 'wall-grid-line');
    seg(mix(B0, R0, t), mix(B1, R1, t), '#e2e2e2', .6, 'wall-grid-line');
    seg(mix(L0, B0, t), mix(F0, R0, t), '#e6e6e6', .6, 'floor-grid-line');
    seg(mix(L0, F0, t), mix(B0, R0, t), '#e6e6e6', .6, 'floor-grid-line');
  }
  seg(L0, L1, '#111', 1.6, 'z-axis-line');
  seg(L1, B1, '#111', 1.5, 'top-back-edge');
  seg(B1, R1, '#111', 1.5, 'top-back-edge');
  seg(B1, B0, '#111', 1.3, 'back-vertical-edge');
  seg(R0, R1, '#888', 1, 'right-vertical-edge');
  seg(L0, B0, '#444', 1, 'floor-back-edge');
  seg(B0, R0, '#444', 1, 'floor-back-edge');
  seg(L0, F0, '#111', 1.7, 'current-density-axis');
  seg(F0, R0, '#111', 1.7, 'cycle-axis');
  gNames.forEach((n, i) => {
    const sx = px(gDensity[i], gCycles[i], gRetention[i]), sy = py(gDensity[i], gCycles[i], gRetention[i]);
    const fx = px(gDensity[i], gCycles[i], 0), fy = py(gDensity[i], gCycles[i], 0);
    const drop = mk('line', {x1: sx, y1: sy, x2: fx, y2: fy, stroke: '#ddd', 'stroke-width': .6}, g);
    
    
    const shadow = mk('ellipse', {cx: fx, cy: fy, rx: 3.2, ry: 1.3, fill: gColors[i]}, g);
    
    
  });
  const defs = document.querySelector('defs');
  gNames.forEach((n, i) => {
    const gid = 'gs' + i;
    const rg = mk('radialGradient', {id: gid, cx: .36, cy: .3, r: .8}, defs);
    mk('stop', {offset: 0, 'stop-color': '#fff'}, rg);
    mk('stop', {offset: .35, 'stop-color': gColors[i]}, rg);
    mk('stop', {offset: 1, 'stop-color': gColors[i]}, rg);
    const c = mk('circle', {cx: px(gDensity[i], gCycles[i], gRetention[i]), cy: py(gDensity[i], gCycles[i], gRetention[i]), r: 3.9, fill: 'url(#' + gid + ')'}, g);
    
    
  });
  const twx = px(gThisWork[0], gThisWork[1], gThisWork[2]), twy = py(gThisWork[0], gThisWork[1], gThisWork[2]);
  const mark = mk('ellipse', {cx: px(gThisWork[0], gThisWork[1], 0), cy: py(gThisWork[0], gThisWork[1], 0), rx: 3.2, ry: 1.3, fill: '#e02020'}, g);
  
  
  const star = mk('text', {x: twx, y: twy + 5, 'text-anchor': 'middle', style: 'font-size:13px;fill:#c81010;font-family:\'DejaVu Sans\',sans-serif'}, g, '★');
  
  
  badge(g, 597, 463, 21, 20, 'g');
}
</script>
</body>
</html>
